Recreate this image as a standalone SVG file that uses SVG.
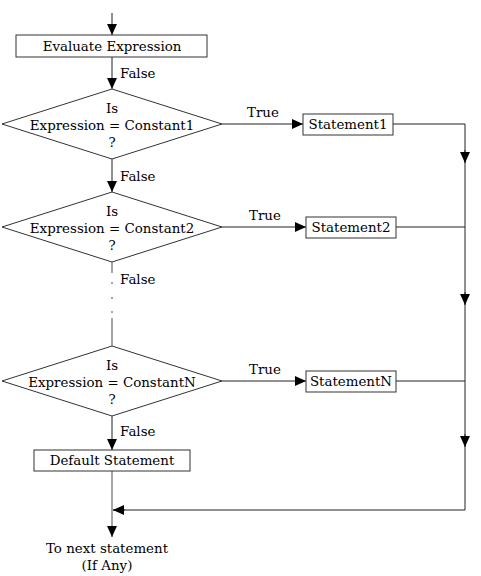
<svg xmlns="http://www.w3.org/2000/svg" width="481" height="576" viewBox="0 0 481 576">
<defs>
<marker id="ah" viewBox="0 0 10 10" refX="10" refY="5" markerWidth="11" markerHeight="11" markerUnits="userSpaceOnUse" orient="auto">
<path d="M0,0.5 L10,5 L0,9.5 Z" fill="#000"/>
</marker>
<style>
text{font-family:"DejaVu Serif","Liberation Serif",serif;font-size:13.4px;fill:#000}
.c{text-anchor:middle}
.box{fill:#fff;stroke:#333;stroke-width:1}
.ln{fill:none;stroke:#222;stroke-width:1}
.g{fill:none;stroke:#888;stroke-width:1.5}
</style>
</defs>
<rect width="481" height="576" fill="#fff"/>
<g id="connectors">
<line class="ln" x1="112" y1="13" x2="112" y2="35" marker-end="url(#ah)"/>
<line class="ln" x1="112" y1="57" x2="112" y2="89" marker-end="url(#ah)"/>
<line class="ln" x1="112" y1="159" x2="112" y2="192" marker-end="url(#ah)"/>
<path class="g" d="M112,262 V273 M112,282 V284 M112,297 V299 M112,311 V313 M112,318 V346"/>
<line class="ln" x1="112" y1="416" x2="112" y2="450" marker-end="url(#ah)"/>
<line class="g" x1="112" y1="471" x2="112" y2="530"/>
<line class="ln" x1="112" y1="527" x2="112" y2="537" marker-end="url(#ah)"/>
<line class="ln" x1="222" y1="124" x2="303" y2="124" marker-end="url(#ah)"/>
<line class="ln" x1="222" y1="227" x2="306" y2="227" marker-end="url(#ah)"/>
<line class="ln" x1="222" y1="381" x2="306" y2="381" marker-end="url(#ah)"/>
<polyline class="ln" points="393,124 465,124 465,510 113,510"/>
<line class="ln" x1="396" y1="227" x2="465" y2="227"/>
<line class="ln" x1="396" y1="381" x2="465" y2="381"/>
<line class="ln" x1="465" y1="150" x2="465" y2="163" marker-end="url(#ah)"/>
<line class="ln" x1="465" y1="292" x2="465" y2="305" marker-end="url(#ah)"/>
<line class="ln" x1="465" y1="434" x2="465" y2="447" marker-end="url(#ah)"/>
<line class="ln" x1="125" y1="510" x2="113" y2="510" marker-end="url(#ah)"/>
<text x="120" y="78">False</text>
<text x="120" y="181">False</text>
<text x="120" y="284">False</text>
<text x="120" y="436">False</text>
<text x="247" y="117">True</text>
<text x="249" y="220">True</text>
<text x="249" y="374">True</text>
</g>
<g id="evaluate">
<rect class="box" x="16" y="35" width="191" height="22"/>
<text class="c" x="112" y="51">Evaluate Expression</text>
</g>
<g id="decision1">
<polygon class="box" points="112,89 222,124 112,159 2,124"/>
<text class="c" x="112" y="113">Is</text>
<text class="c" x="112" y="130">Expression = Constant1</text>
<text class="c" x="112" y="147">?</text>
</g>
<g id="statement1">
<rect class="box" x="303" y="114" width="90" height="21"/>
<text class="c" x="348" y="129">Statement1</text>
</g>
<g id="decision2">
<polygon class="box" points="112,192 222,227 112,262 2,227"/>
<text class="c" x="112" y="216">Is</text>
<text class="c" x="112" y="233">Expression = Constant2</text>
<text class="c" x="112" y="250">?</text>
</g>
<g id="statement2">
<rect class="box" x="306" y="217" width="90" height="21"/>
<text class="c" x="351" y="232">Statement2</text>
</g>
<g id="decisionN">
<polygon class="box" points="112,346 222,381 112,416 2,381"/>
<text class="c" x="112" y="370">Is</text>
<text class="c" x="112" y="387">Expression = ConstantN</text>
<text class="c" x="112" y="404">?</text>
</g>
<g id="statementN">
<rect class="box" x="306" y="371" width="90" height="21"/>
<text class="c" x="351" y="386">StatementN</text>
</g>
<g id="default">
<rect class="box" x="34" y="450" width="156" height="21"/>
<text class="c" x="112" y="465">Default Statement</text>
</g>
<g id="next">
<text class="c" x="107" y="553">To next statement</text>
<text class="c" x="107" y="570">(If Any)</text>
</g>
</svg>
